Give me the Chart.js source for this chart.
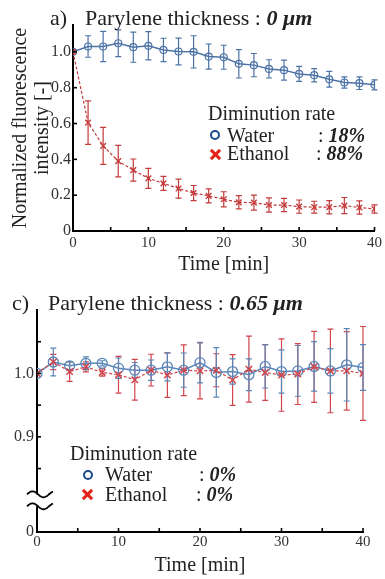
<!DOCTYPE html>
<html><head><meta charset="utf-8">
<script src="https://cdn.jsdelivr.net/npm/chart.js@4.4.1/dist/chart.umd.min.js"></script>
<style>
html,body{margin:0;padding:0;background:#fff;}
#wrap{position:relative;width:385px;height:579px;overflow:hidden;font-family:"Liberation Serif","Times New Roman",serif;color:#222;}
canvas{position:absolute;left:0;}
.t{position:absolute;white-space:pre;line-height:1;}
.bi{font-weight:bold;font-style:italic;}
.circ{position:absolute;width:6px;height:6px;border:2.5px solid #1d4a8a;border-radius:50%;}
.xm{position:absolute;width:13px;height:13px;}
.xm:before,.xm:after{content:"";position:absolute;left:0;top:5px;width:13px;height:3px;background:#e32219;}
.xm:before{transform:rotate(45deg);} .xm:after{transform:rotate(-45deg);}
</style></head>
<body><div id="wrap">
<canvas id="ca" width="385" height="280" style="top:0"></canvas>
<canvas id="cc" width="385" height="299" style="top:280px"></canvas>

<div class="t" style="left:50px;top:7px;font-size:22px;">a)</div>
<div class="t" style="left:85px;top:7px;font-size:22px;">Parylene thickness : <span class="bi">0 μm</span></div>
<div class="t" style="left:208px;top:103px;font-size:20px;">Diminution rate</div>
<div class="circ" style="left:210px;top:130px;"></div>
<div class="t" style="left:227px;top:125px;font-size:20px;">Water</div>
<div class="t" style="left:318px;top:125px;font-size:20px;">: <span class="bi">18%</span></div>
<div class="xm" style="left:209px;top:148px;"></div>
<div class="t" style="left:227px;top:143px;font-size:20px;">Ethanol</div>
<div class="t" style="left:316px;top:143px;font-size:20px;">: <span class="bi">88%</span></div>

<div class="t" style="left:12px;top:292px;font-size:22px;">c)</div>
<div class="t" style="left:48px;top:292px;font-size:22px;">Parylene thickness : <span class="bi">0.65 μm</span></div>
<div class="t" style="left:70px;top:443px;font-size:20px;">Diminution rate</div>
<div class="circ" style="left:83px;top:470px;"></div>
<div class="t" style="left:105px;top:464px;font-size:20px;">Water</div>
<div class="t" style="left:199px;top:464px;font-size:20px;">: <span class="bi">0%</span></div>
<div class="xm" style="left:81px;top:488px;"></div>
<div class="t" style="left:105px;top:484px;font-size:20px;">Ethanol</div>
<div class="t" style="left:196px;top:484px;font-size:20px;">: <span class="bi">0%</span></div>
</div>
<script>
// ---- data ----
const time = [0,2,4,6,8,10,12,14,16,18,20,22,24,26,28,30,32,34,36,38,40];

const waterA   = [1.0,1.03,1.03,1.048,1.026,1.034,1.011,1.002,1.0,0.974,0.970,0.933,0.926,0.905,0.898,0.877,0.870,0.847,0.829,0.825,0.816];
const waterAErr= [0,0.06,0.084,0.075,0.084,0.079,0.065,0.075,0.09,0.07,0.067,0.079,0.065,0.051,0.056,0.042,0.037,0.044,0.031,0.035,0.028];
const ethanolA = [1.0,0.605,0.475,0.39,0.34,0.294,0.266,0.237,0.212,0.196,0.177,0.16,0.158,0.145,0.145,0.136,0.133,0.133,0.142,0.131,0.123];
const ethanolAErr=[0,0.121,0.103,0.088,0.062,0.056,0.039,0.053,0.042,0.039,0.042,0.037,0.042,0.04,0.037,0.037,0.033,0.037,0.045,0.037,0.023];

const waterC   = [1.0,1.018,1.012,1.016,1.016,1.0083,1.0052,1.0052,1.0104,1.0052,1.017,1.0016,1.003,0.998,1.011,1.003,1.004,1.011,1.004,1.0135,1.0093];
const waterCErr= [0,0.022,0.006,0.01,0.004,0.016,0.012,0.016,0.022,0.027,0.032,0.039,0.02,0.025,0.034,0.034,0.04,0.039,0.035,0.057,0.036];
const ethanolC = [1.0,1.018,1.003,1.0104,1.0016,0.998,0.990,1.0052,0.9974,1.005,1.004,1.005,0.9896,1.0067,1.0016,0.9974,0.999,1.0104,1.004,1.004,1.0];
const ethanolCErr=[0,0.012,0.0156,0.008,0.006,0.029,0.032,0.025,0.035,0.04,0.044,0.026,0.04,0.052,0.044,0.057,0.048,0.056,0.066,0.062,0.074];

const xTickLabels = [0,10,20,30,40];
const xTickMarks  = [5,10,15,20,25,30,35,40];
const yTicksA      = [0,0.2,0.4,0.6,0.8,1.0];
const yTickLabelsA = ['0','0.2','0.4','0.6','0.8','1.0'];
const yTicksC      = [0.75,0.9,1.0];        // 0.75 position stands for the broken-axis "0"
const yTickLabelsC = ['0','0.9','1.0'];
const yTickMarksC  = [0.85,0.9,0.95,1.0,1.05];
const breakValueC  = 0.80;

const pts = arr => time.map((t,i)=>({x:t,y:arr[i]}));
const FONT = 'Liberation Serif';

// ---- plugins ----
const errPlugin = {
  id:'errBars',
  beforeDatasetsDraw(chart){
    const {ctx, scales:{x,y}} = chart;
    chart.data.datasets.slice().reverse().forEach(ds=>{
      if(!ds.err) return;
      ctx.save(); ctx.strokeStyle = ds.borderColor; ctx.lineWidth = 1.2;
      ds.data.forEach((p,i)=>{
        const e = ds.err[i]; if(!e) return;
        const px = x.getPixelForValue(p.x), y1 = y.getPixelForValue(p.y+e), y2 = y.getPixelForValue(p.y-e);
        ctx.beginPath();
        ctx.moveTo(px,y1); ctx.lineTo(px,y2);
        ctx.moveTo(px-3,y1); ctx.lineTo(px+3,y1);
        ctx.moveTo(px-3,y2); ctx.lineTo(px+3,y2);
        ctx.stroke();
      });
      ctx.restore();
    });
  }
};
const tickPlugin = {
  id:'inTicks',
  afterDraw(chart, args, opts){
    const {ctx, chartArea:a, scales:{x,y}} = chart;
    ctx.save(); ctx.strokeStyle='#000'; ctx.lineWidth=1.6;
    (opts.xMarks||[]).forEach(v=>{const p=x.getPixelForValue(v); ctx.beginPath(); ctx.moveTo(p,a.bottom); ctx.lineTo(p,a.bottom-4); ctx.stroke();});
    (opts.yMarks||[]).forEach(v=>{const p=y.getPixelForValue(v); ctx.beginPath(); ctx.moveTo(a.left,p); ctx.lineTo(a.left+4,p); ctx.stroke();});
    if(opts.breakAt!==undefined){
      const yc = y.getPixelForValue(opts.breakAt);
      ctx.fillStyle='#fff'; ctx.fillRect(a.left-3, yc-6, 6, 12);
      ctx.lineWidth=1.8;
      [-6,6].forEach(off=>{
        ctx.beginPath();
        for(let dx=-10; dx<=16; dx++){
          const xx=a.left+dx, yy=yc+off-3*Math.sin((dx+10)/22*2*Math.PI);
          if(dx===-10) ctx.moveTo(xx,yy); else ctx.lineTo(xx,yy);
        }
        ctx.stroke();
      });
    }
    ctx.restore();
  }
};

function xScale(height, pad, titlePad){
  return {
    type:'linear', min:0, max:40, position:'bottom',
    afterFit: s => { s.height = height; },
    afterBuildTicks: s => { s.ticks = xTickLabels.map(v=>({value:v})); },
    ticks:{ font:{family:FONT,size:15}, color:'#333', padding:pad, maxRotation:0, autoSkip:false },
    grid:{ display:false, drawTicks:false },
    border:{ display:true, color:'#000', width:2 },
    title:{ display:true, text:'Time [min]', font:{family:FONT,size:20}, color:'#222', padding:{top:0,bottom:titlePad} }
  };
}

// ---- chart a ----
new Chart(document.getElementById('ca'), {
  type:'line',
  data:{ datasets:[
    { label:'Water', data:pts(waterA), err:waterAErr, borderColor:'#4d73a6', borderWidth:1.5,
      pointStyle:'circle', pointRadius:3.5, pointBorderWidth:1.2, pointBackgroundColor:'rgba(0,0,0,0)', order:1 },
    { label:'Ethanol', data:pts(ethanolA), err:ethanolAErr, borderColor:'#c43b3b', borderWidth:1.2, borderDash:[3,2],
      pointStyle:'crossRot', pointRadius:4, pointBorderWidth:1.4, order:0 }
  ]},
  options:{
    responsive:false, animation:false,
    layout:{ padding:{left:0,right:8,top:25,bottom:0} },
    plugins:{ legend:{display:false}, tooltip:{enabled:false}, inTicks:{xMarks:xTickMarks, yMarks:yTicksA} },
    scales:{
      x: xScale(49, 3, 3),
      y:{ type:'linear', min:0, max:1.15,
        afterFit: s => { s.width = 73; },
        afterBuildTicks: s => { s.ticks = yTicksA.map(v=>({value:v})); },
        ticks:{ font:{family:FONT,size:16}, color:'#333', padding:2, autoSkip:false,
          callback:(v)=>{ const i=yTicksA.findIndex(t=>Math.abs(t-v)<1e-6); return i>=0?yTickLabelsA[i]:''; } },
        grid:{ display:false, drawTicks:false },
        border:{ display:true, color:'#000', width:2 },
        title:{ display:true, text:['Normalized fluorescence','intensity [-]'], font:{family:FONT,size:20,lineHeight:1.1}, color:'#222', padding:{top:10,bottom:0} }
      }
    }
  },
  plugins:[errPlugin, tickPlugin]
});

// ---- chart c ----
new Chart(document.getElementById('cc'), {
  type:'line',
  data:{ datasets:[
    { label:'Water', data:pts(waterC), err:waterCErr, borderColor:'#5a86b8', borderWidth:1.5,
      pointStyle:'circle', pointRadius:5, pointBorderWidth:1.3, pointBackgroundColor:'rgba(0,0,0,0)', order:1 },
    { label:'Ethanol', data:pts(ethanolC), err:ethanolCErr, borderColor:'#d0454c', borderWidth:1.2, borderDash:[3,2],
      pointStyle:'crossRot', pointRadius:4.5, pointBorderWidth:1.5, order:0 }
  ]},
  options:{
    responsive:false, animation:false,
    layout:{ padding:{left:0,right:22,top:30,bottom:0} },
    plugins:{ legend:{display:false}, tooltip:{enabled:false}, inTicks:{xMarks:xTickMarks, yMarks:yTickMarksC, breakAt:breakValueC} },
    scales:{
      x: xScale(47, 1, 1),
      y:{ type:'linear', min:0.75, max:1.1,
        afterFit: s => { s.width = 37; },
        afterBuildTicks: s => { s.ticks = yTicksC.map(v=>({value:v})); },
        ticks:{ font:{family:FONT,size:16}, color:'#333', padding:3, autoSkip:false,
          callback:(v)=>{ const i=yTicksC.findIndex(t=>Math.abs(t-v)<1e-6); return i>=0?yTickLabelsC[i]:''; } },
        grid:{ display:false, drawTicks:false },
        border:{ display:true, color:'#000', width:2 }
      }
    }
  },
  plugins:[errPlugin, tickPlugin]
});
</script>
</body></html>
